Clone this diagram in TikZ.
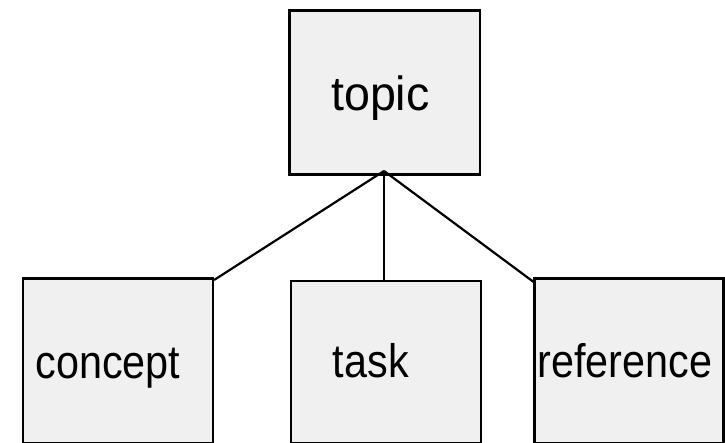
\documentclass[tikz,border=0pt]{standalone}
\usepackage{fontspec}
\setmainfont{Liberation Sans}
\definecolor{boxfill}{HTML}{F0F0F0}
\begin{document}
\begin{tikzpicture}[x=1pt,y=-1pt,
  boxstyle/.style={draw=black,line width=2.4pt,fill=boxfill,rectangle,inner sep=0pt,anchor=north west},
  bigtext/.style={inner sep=0pt,anchor=base west,xscale=0.97,font=\fontsize{48}{56}\selectfont},
  smalltext/.style={inner sep=0pt,anchor=base west,xscale=0.88,font=\fontsize{47}{56}\selectfont},
  link/.style={draw=black,line width=2.2pt}]
\useasboundingbox (0,0) rectangle (725,443);
\node[boxstyle,minimum width=190.7pt,minimum height=164.2pt] (topic) at (288.3,9.3) {};
\node[boxstyle,minimum width=190pt,minimum height=164pt] (concept) at (21.7,277.5) {};
\node[boxstyle,minimum width=190pt,minimum height=161.5pt] (task) at (290,280) {};
\node[boxstyle,minimum width=189pt,minimum height=164pt] (reference) at (533.3,277.5) {};
\node[bigtext] (topictext) at (331,111) {topic};
\node[smalltext] (concepttext) at (35.2,378) {concept};
\node[smalltext] (tasktext) at (332.8,377) {task};
\node[smalltext] (referencetext) at (537.5,377) {reference};
\coordinate (apex) at (384,171);
\draw[link] (apex) -- ([yshift=-2.5pt]concept.north east);
\draw[link] (apex) -- (task.north -| apex);
\draw[link] (apex) -- ([xshift=1.7pt,yshift=-5.5pt]reference.north west);
\end{tikzpicture}
\end{document}
